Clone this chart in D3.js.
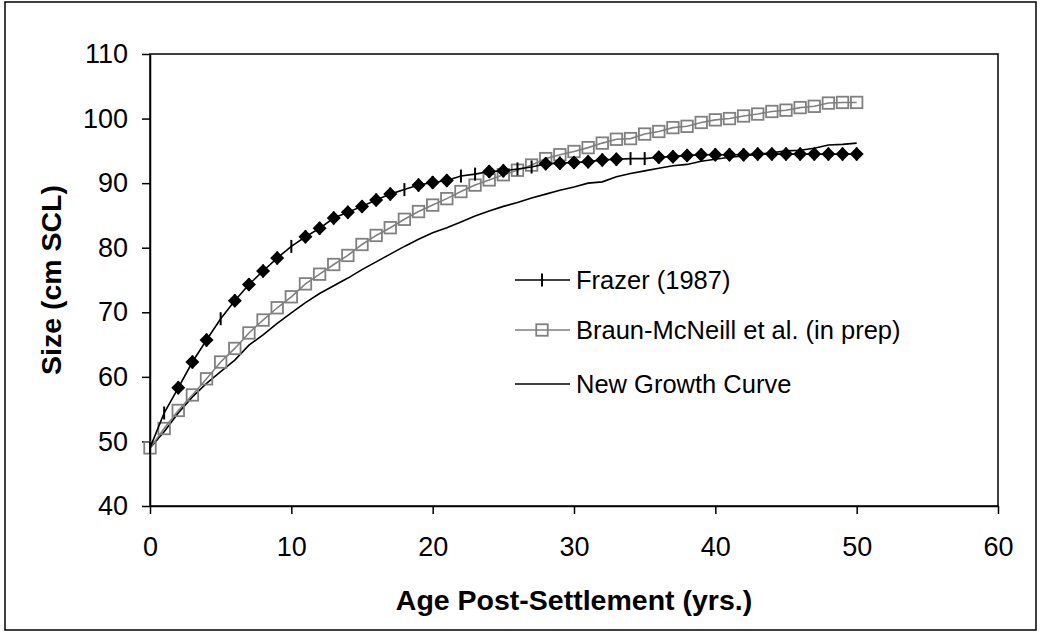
<!DOCTYPE html>
<html><head><meta charset="utf-8">
<script src="https://cdn.jsdelivr.net/npm/d3@7"></script>
<style>
body{margin:0;background:#fff}
svg{display:block}
text{font-family:Arial,"Liberation Sans",sans-serif;fill:#000}
</style>
</head><body><svg id="c" width="1041" height="633"></svg>
<script>
// ---- data ----
const ages = [0,1,2,3,4,5,6,7,8,9,10,11,12,13,14,15,16,17,18,19,20,21,22,23,24,25,26,27,28,29,30,31,32,33,34,35,36,37,38,39,40,41,42,43,44,45,46,47,48,49,50];
const frazer = [49.0,54.4,58.3,62.3,65.7,69.0,71.8,74.3,76.4,78.4,80.2,81.7,83.0,84.6,85.5,86.4,87.4,88.3,89.0,89.7,90.1,90.4,91.1,91.4,91.8,91.9,92.2,92.5,93.0,93.1,93.2,93.3,93.6,93.7,93.8,93.8,94.0,94.1,94.3,94.4,94.4,94.4,94.4,94.5,94.5,94.5,94.5,94.5,94.5,94.5,94.5];
const braun = [49.0,52.0,54.8,57.2,59.7,62.3,64.4,66.8,68.8,70.7,72.4,74.4,75.9,77.4,78.8,80.5,81.9,83.1,84.4,85.6,86.6,87.6,88.7,89.7,90.5,91.3,92.0,92.8,93.8,94.4,94.9,95.5,96.2,96.8,96.9,97.6,98.0,98.6,98.8,99.4,99.8,100.0,100.4,100.7,101.1,101.3,101.7,101.9,102.4,102.5,102.5];
const newGrowth = [49.0,51.5,54.4,56.9,59.0,60.8,62.6,64.9,66.5,68.3,69.9,71.5,72.9,74.1,75.3,76.6,77.8,79.0,80.2,81.3,82.3,83.1,84.0,84.9,85.7,86.4,87.0,87.7,88.3,88.9,89.4,90.0,90.2,91.0,91.5,91.9,92.3,92.7,92.9,93.4,93.7,94.0,94.2,94.5,94.7,95.0,95.1,95.4,95.9,96.0,96.2];
// ages at which the Frazer points carry a filled diamond
const diamondAges = [2,3,4,6,7,8,9,11,12,13,14,15,16,17,19,20,21,24,25,28,29,30,31,32,33,36,37,38,39,40,41,42,43,44,45,46,47,48,49,50];
const seriesNames = ["Frazer (1987)","Braun-McNeill et al. (in prep)","New Growth Curve"];
const xTicks = [0,10,20,30,40,50,60];
const yTicks = [40,50,60,70,80,90,100,110];
const xTitle = "Age Post-Settlement (yrs.)";
const yTitle = "Size (cm SCL)";

// ---- layout ----
const L = 150, R = 998, T = 54, B = 506;
const svg = d3.select("#c");

svg.append("rect").attr("x",5).attr("y",2).attr("width",1031).attr("height",628)
  .attr("fill","#fff").attr("stroke","#000").attr("stroke-width",1.5);

const x = d3.scaleLinear().domain([0,60]).range([L,R]);
const y = d3.scaleLinear().domain([40,110]).range([B,T]);

svg.append("rect").attr("x",L).attr("y",T).attr("width",R-L).attr("height",B-T)
  .attr("fill","none").attr("stroke","#000").attr("stroke-width",1.5);

const tickFs = 27, legFs = 25.5, titleFs = 28.5;
const gx = svg.append("g").attr("transform",`translate(0,${B})`)
  .call(d3.axisBottom(x).tickValues(xTicks).tickSize(8).tickPadding(23).tickSizeOuter(0));
const gy = svg.append("g").attr("transform",`translate(${L},0)`)
  .call(d3.axisLeft(y).tickValues(yTicks).tickSize(8).tickPadding(14).tickSizeOuter(0));
[gx,gy].forEach(g=>{
  g.select(".domain").attr("stroke","#000").attr("stroke-width",1.5);
  g.selectAll(".tick line").attr("stroke","#000").attr("stroke-width",1.5);
  g.selectAll(".tick text").attr("font-size",tickFs).attr("font-family","Arial,'Liberation Sans',sans-serif").attr("fill","#000");
});

svg.append("text").attr("x",(L+R)/2).attr("y",610).attr("text-anchor","middle")
  .attr("font-size",titleFs).attr("font-weight","bold").text(xTitle);
svg.append("text").attr("transform",`translate(61,${(T+B)/2}) rotate(-90)`).attr("text-anchor","middle")
  .attr("font-size",titleFs).attr("font-weight","bold").text(yTitle);

const line = d3.line().x((d,i)=>x(ages[i])).y(d=>y(d));

svg.append("path").attr("d",line(newGrowth)).attr("fill","none").attr("stroke","#000").attr("stroke-width",1.6);
svg.append("path").attr("d",line(braun)).attr("fill","none").attr("stroke","#808080").attr("stroke-width",1.6);
const sq = 11.5;
svg.append("g").selectAll("rect").data(braun).join("rect")
  .attr("x",(d,i)=>x(ages[i])-sq/2).attr("y",d=>y(d)-sq/2)
  .attr("width",sq).attr("height",sq).attr("fill","none").attr("stroke","#808080").attr("stroke-width",1.8);
svg.append("path").attr("d",line(frazer)).attr("fill","none").attr("stroke","#000").attr("stroke-width",1.6);
svg.append("g").selectAll("line").data(frazer).join("line")
  .attr("x1",(d,i)=>x(ages[i])).attr("x2",(d,i)=>x(ages[i]))
  .attr("y1",d=>y(d)-6.5).attr("y2",d=>y(d)+6.5).attr("stroke","#000").attr("stroke-width",2);
const dm = 7;
svg.append("g").selectAll("path").data(diamondAges).join("path")
  .attr("transform",a=>`translate(${x(a)},${y(frazer[ages.indexOf(a)])})`)
  .attr("d",`M0,${-dm}L${dm},0L0,${dm}L${-dm},0Z`).attr("fill","#000");

// legend
const lg = svg.append("g");
const ly = [280,330,384];
const lx1 = 515, lx2 = 570, lm = 542;
lg.append("line").attr("x1",lx1).attr("x2",lx2).attr("y1",ly[0]).attr("y2",ly[0]).attr("stroke","#000").attr("stroke-width",1.6);
lg.append("line").attr("x1",lm).attr("x2",lm).attr("y1",ly[0]-6.5).attr("y2",ly[0]+6.5).attr("stroke","#000").attr("stroke-width",2);
lg.append("line").attr("x1",lx1).attr("x2",lx2).attr("y1",ly[1]).attr("y2",ly[1]).attr("stroke","#808080").attr("stroke-width",1.6);
lg.append("rect").attr("x",lm-sq/2).attr("y",ly[1]-sq/2).attr("width",sq).attr("height",sq).attr("fill","none").attr("stroke","#808080").attr("stroke-width",1.8);
lg.append("line").attr("x1",lx1).attr("x2",lx2).attr("y1",ly[2]).attr("y2",ly[2]).attr("stroke","#000").attr("stroke-width",1.6);
seriesNames.forEach((n,i)=>{
  lg.append("text").attr("x",576).attr("y",ly[i]).attr("dy","0.35em").attr("font-size",legFs).text(n);
});
</script>
</body></html>
